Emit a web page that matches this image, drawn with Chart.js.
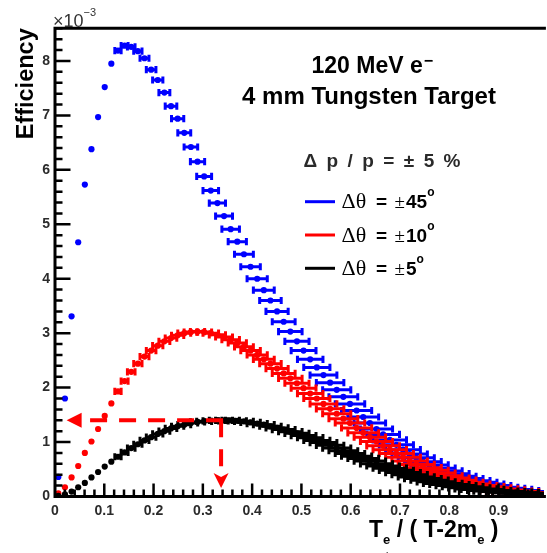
<!DOCTYPE html>
<html>
<head>
<meta charset="utf-8">
<title>Efficiency vs T_e / (T-2m_e)</title>
<style>
  html, body { margin: 0; padding: 0; background: #fff; overflow: hidden; }
  #wrap { position: relative; width: 547px; height: 553px; }
  canvas { display: block; }
</style>
<script src="https://cdn.jsdelivr.net/npm/chart.js@4.4.1/dist/chart.umd.min.js"></script>
</head>
<body>
<div id="wrap"><canvas id="eff" width="547" height="553"></canvas></div>
<script>
// Bin width in T_e / (T - 2 m_e) and the momentum acceptance (Δp/p = ±5 %)
const binWidth = 0.01345;
const relHalfWidth = 0.05;

// Efficiency (units of 1e-3) per bin, one array per angular acceptance
const effTheta45 = [
  0.36, 1.80, 3.31, 4.67, 5.73, 6.38, 6.97, 7.52, 7.95, 8.19,
  8.28, 8.26, 8.18, 8.05, 7.84, 7.65, 7.42, 7.17, 6.94, 6.68,
  6.42, 6.15, 5.88, 5.62, 5.39, 5.15, 4.91, 4.68, 4.45, 4.22,
  4.00, 3.79, 3.60, 3.40, 3.21, 3.03, 2.85, 2.68, 2.52, 2.37,
  2.23, 2.09, 1.96, 1.83, 1.70, 1.58, 1.46, 1.35, 1.24, 1.14,
  1.04, 0.95, 0.86, 0.78, 0.71, 0.64, 0.58, 0.52, 0.47, 0.42,
  0.37, 0.33, 0.29, 0.26, 0.23, 0.20, 0.17, 0.15, 0.13, 0.11,
  0.09, 0.08, 0.07, 0.06
];
const effTheta10 = [
  0.06, 0.17, 0.35, 0.56, 0.80, 1.01, 1.24, 1.48, 1.71, 1.93,
  2.12, 2.29, 2.44, 2.57, 2.68, 2.77, 2.85, 2.91, 2.96, 3.00,
  3.02, 3.03, 3.02, 3.00, 2.97, 2.93, 2.88, 2.82, 2.75, 2.68,
  2.60, 2.52, 2.44, 2.35, 2.26, 2.17, 2.08, 1.99, 1.89, 1.80,
  1.70, 1.61, 1.52, 1.43, 1.35, 1.26, 1.17, 1.09, 1.01, 0.93,
  0.86, 0.79, 0.72, 0.65, 0.59, 0.53, 0.48, 0.43, 0.38, 0.34,
  0.30, 0.26, 0.23, 0.20, 0.18, 0.16, 0.14, 0.12, 0.10, 0.09,
  0.07, 0.06, 0.05, 0.04
];
const effTheta5 = [
  0.01, 0.04, 0.09, 0.17, 0.25, 0.35, 0.45, 0.55, 0.64, 0.73,
  0.81, 0.89, 0.96, 1.03, 1.09, 1.15, 1.20, 1.25, 1.29, 1.32,
  1.35, 1.37, 1.38, 1.39, 1.40, 1.40, 1.40, 1.39, 1.38, 1.36,
  1.34, 1.32, 1.29, 1.26, 1.23, 1.19, 1.16, 1.12, 1.08, 1.03,
  0.99, 0.94, 0.89, 0.84, 0.79, 0.74, 0.70, 0.65, 0.60, 0.56,
  0.52, 0.48, 0.44, 0.40, 0.36, 0.33, 0.30, 0.27, 0.24, 0.22,
  0.20, 0.18, 0.16, 0.14, 0.13, 0.11, 0.10, 0.09, 0.08, 0.07,
  0.06, 0.05, 0.04, 0.03
];

const seriesColors = ['#0000ff', '#ff0000', '#000000'];
const seriesAngles = ['45', '10', '5'];

const xTickValues = [0, 0.1, 0.2, 0.3, 0.4, 0.5, 0.6, 0.7, 0.8, 0.9];
const yTickValues = [0, 1, 2, 3, 4, 5, 6, 7, 8];

// Peak of the ±5° curve, pointed out by the dashed arrows
const peakMarker = { x: 0.337, y: 1.40 };
const arrowLeftTip = 0.0236;   // x value of the left arrow tip
const arrowDownTip = 0.156;    // y value of the down arrow tip

const binCenters = effTheta45.map((_, i) => (i + 0.5) * binWidth);
const toPoints = arr => arr.map((v, i) => ({ x: binCenters[i], y: v }));

const markerRadius = 3.1;
const capHalf = 3.6;
const SANS = '"Liberation Sans", Arial, Helvetica, sans-serif';
const SERIF = '"Liberation Serif", "Times New Roman", serif';

// Horizontal error bars (±5 % of x) with end caps, drawn under each marker set
const errorBarPlugin = {
  id: 'errorBars',
  beforeDatasetDraw(chart, args) {
    const { ctx, chartArea: a, scales: { x } } = chart;
    const ds = chart.data.datasets[args.index];
    ctx.save();
    ctx.beginPath();
    ctx.rect(a.left, a.top, a.right - a.left, a.bottom - a.top);
    ctx.clip();
    ctx.strokeStyle = ds.borderColor;
    ctx.lineWidth = 3;
    ctx.lineCap = 'butt';
    args.meta.data.forEach((pt, i) => {
      const xv = ds.data[i].x;
      const lo = x.getPixelForValue(xv * (1 - relHalfWidth));
      const hi = x.getPixelForValue(xv * (1 + relHalfWidth));
      if (hi - pt.x <= markerRadius) return;
      ctx.beginPath();
      ctx.moveTo(lo, pt.y); ctx.lineTo(hi, pt.y);
      ctx.moveTo(lo, pt.y - capHalf); ctx.lineTo(lo, pt.y + capHalf);
      ctx.moveTo(hi, pt.y - capHalf); ctx.lineTo(hi, pt.y + capHalf);
      ctx.stroke();
    });
    ctx.restore();
  }
};

function drawRuns(ctx, x0, base, runs) {
  let x = x0;
  runs.forEach(r => {
    ctx.font = r.font;
    ctx.fillStyle = r.color || '#000';
    ctx.fillText(r.text, r.x !== undefined ? r.x : x, base + (r.dy || 0));
    x = (r.x !== undefined ? r.x : x) + ctx.measureText(r.text).width + (r.gap || 0);
  });
  return x;
}

// Frame, inward ticks, the dashed arrows and all annotation text
const decorPlugin = {
  id: 'decor',
  afterDatasetsDraw(chart) {
    const { ctx, chartArea: a, scales: { x, y } } = chart;
    ctx.save();

    // dashed arrows marking the peak of the ±5° curve
    const cx = x.getPixelForValue(peakMarker.x);
    const cy = y.getPixelForValue(peakMarker.y);
    const lx = x.getPixelForValue(arrowLeftTip);
    const dy = y.getPixelForValue(arrowDownTip);
    const head = 15, headHalf = 7.5;
    ctx.strokeStyle = '#ff0000';
    ctx.fillStyle = '#ff0000';
    ctx.lineWidth = 4;
    ctx.lineCap = 'butt';
    ctx.setLineDash([17, 12]);
    ctx.beginPath(); ctx.moveTo(cx + 2, cy); ctx.lineTo(lx + head, cy); ctx.stroke();
    ctx.beginPath(); ctx.moveTo(cx, cy); ctx.lineTo(cx, dy - head); ctx.stroke();
    ctx.setLineDash([]);
    ctx.beginPath();
    ctx.moveTo(lx, cy); ctx.lineTo(lx + head, cy - headHalf); ctx.lineTo(lx + head, cy + headHalf);
    ctx.closePath(); ctx.fill();
    ctx.beginPath();
    ctx.moveTo(cx, dy); ctx.lineTo(cx - headHalf, dy - head); ctx.lineTo(cx, dy - head + 4);
    ctx.lineTo(cx + headHalf, dy - head);
    ctx.closePath(); ctx.fill();

    // axis frame
    ctx.strokeStyle = '#000';
    ctx.lineWidth = 3;
    ctx.beginPath();
    ctx.moveTo(a.left - 1.5, a.top); ctx.lineTo(a.right + 2, a.top);
    ctx.moveTo(a.left, a.top - 1.5); ctx.lineTo(a.left, a.bottom + 1.5);
    ctx.moveTo(a.left - 1.5, a.bottom); ctx.lineTo(a.right + 2, a.bottom);
    ctx.stroke();

    // inward ticks
    ctx.lineWidth = 2.5;
    ctx.beginPath();
    for (let k = 1; k <= 43; k++) {
      const py = y.getPixelForValue(k * 0.2);
      const len = k % 5 === 0 ? 15.5 : 7.5;
      ctx.moveTo(a.left, py); ctx.lineTo(a.left + len, py);
    }
    for (let k = 1; k <= 49; k++) {
      const px = x.getPixelForValue(k * 0.02);
      const len = k % 5 === 0 ? 13 : 7;
      ctx.moveTo(px, a.bottom); ctx.lineTo(px, a.bottom - len);
    }
    ctx.stroke();
    ctx.restore();
  },
  afterDraw(chart) {
    const { ctx, chartArea: a } = chart;
    ctx.save();
    ctx.textAlign = 'left';
    ctx.textBaseline = 'alphabetic';

    // y axis title
    ctx.save();
    ctx.translate(32.5, a.top);
    ctx.rotate(-Math.PI / 2);
    ctx.textAlign = 'right';
    ctx.font = 'bold 23.5px ' + SANS;
    ctx.fillStyle = '#000';
    ctx.fillText('Efficiency', 0, 0);
    ctx.restore();

    // exponent of the y axis
    drawRuns(ctx, 53, 26.5, [
      { text: '×10', font: '18px ' + SANS, color: '#333' },
      { text: '−3', font: '11px ' + SANS, color: '#333', dy: -11 }
    ]);

    // x axis title
    ctx.textAlign = 'left';
    drawRuns(ctx, 369, 536.5, [
      { text: 'T', font: 'bold 23px ' + SANS },
      { text: 'e', font: 'bold 13px ' + SANS, dy: 7 },
      { text: ' / ( T-2m', font: 'bold 23px ' + SANS },
      { text: 'e', font: 'bold 13px ' + SANS, dy: 7 },
      { text: ' )', font: 'bold 23px ' + SANS }
    ]);
    ctx.font = 'bold 11px ' + SANS;
    ctx.fillStyle = '#000';
    ctx.fillText('+', 384, 559);
    ctx.fillText('-', 484, 558);

    // beam and target
    drawRuns(ctx, 311.5, 72.5, [
      { text: '120 MeV e', font: 'bold 23px ' + SANS, gap: 1 },
      { text: '−', font: 'bold 16px ' + SANS, dy: -7 }
    ]);
    ctx.font = 'bold 24px ' + SANS;
    ctx.textAlign = 'center';
    ctx.fillStyle = '#000';
    ctx.fillText('4 mm Tungsten Target', 369, 103.5);
    ctx.textAlign = 'left';

    // momentum acceptance line
    const accTokens = ['Δ', 'p', '/', 'p', '=', '±', '5', '%'];
    ctx.font = 'bold 19px ' + SANS;
    const tokW = accTokens.reduce((s, t) => s + ctx.measureText(t).width, 0);
    const gap = (157 - tokW) / (accTokens.length - 1);
    drawRuns(ctx, 303.5, 166.5, accTokens.map(t => ({
      text: t, font: 'bold 19px ' + SANS, color: '#2a2a2a', gap: gap
    })));

    // legend
    const rowLine = [201.7, 235, 268.3];
    seriesAngles.forEach((ang, i) => {
      ctx.strokeStyle = seriesColors[i];
      ctx.lineWidth = 3;
      ctx.beginPath();
      ctx.moveTo(305, rowLine[i]); ctx.lineTo(335, rowLine[i]);
      ctx.stroke();
      const base = rowLine[i] + 6.7;
      drawRuns(ctx, 341.5, base, [
        { text: 'Δθ', font: '22px ' + SERIF },
        { text: '=', font: 'bold 19px ' + SANS, x: 376 },
        { text: '±', font: '19px ' + SERIF, x: 394.5 },
        { text: ang, font: 'bold 19px ' + SANS, x: 406 },
        { text: 'o', font: 'bold 12px ' + SANS, dy: -12 }
      ]);
    });
    ctx.restore();
  }
};

const tickFont = { family: SANS, size: 14, weight: 'bold' };

new Chart(document.getElementById('eff'), {
  type: 'scatter',
  data: {
    datasets: [
      { label: 'Δθ = ±45°', data: toPoints(effTheta45), order: 3,
        backgroundColor: seriesColors[0], borderColor: seriesColors[0] },
      { label: 'Δθ = ±10°', data: toPoints(effTheta10), order: 2,
        backgroundColor: seriesColors[1], borderColor: seriesColors[1] },
      { label: 'Δθ = ±5°', data: toPoints(effTheta5), order: 1,
        backgroundColor: seriesColors[2], borderColor: seriesColors[2] }
    ]
  },
  options: {
    responsive: false,
    devicePixelRatio: 1,
    animation: false,
    events: [],
    layout: { padding: { top: 28.3, right: 0, bottom: 0, left: 0 } },
    elements: {
      point: { radius: markerRadius, borderWidth: 0, pointStyle: 'circle', hoverRadius: markerRadius }
    },
    plugins: { legend: { display: false }, tooltip: { enabled: false }, title: { display: false } },
    scales: {
      x: {
        type: 'linear', position: 'bottom', min: 0, max: 0.992,
        afterFit(s) { s.height = 56.5; },
        afterBuildTicks(s) { s.ticks = xTickValues.map(v => ({ value: v })); },
        grid: { display: false, drawTicks: false },
        border: { display: false },
        ticks: {
          autoSkip: false, maxRotation: 0, padding: 6, color: '#2b2b2b', font: tickFont,
          callback: v => (v === 0 ? '0' : v.toFixed(1))
        }
      },
      y: {
        type: 'linear', min: 0, max: 8.6,
        afterFit(s) { s.width = 55; },
        afterBuildTicks(s) { s.ticks = yTickValues.map(v => ({ value: v })); },
        grid: { display: false, drawTicks: false },
        border: { display: false },
        ticks: {
          autoSkip: false, padding: 5, color: '#2b2b2b', font: tickFont,
          callback: v => String(v)
        }
      }
    }
  },
  plugins: [errorBarPlugin, decorPlugin]
});
</script>
</body>
</html>
